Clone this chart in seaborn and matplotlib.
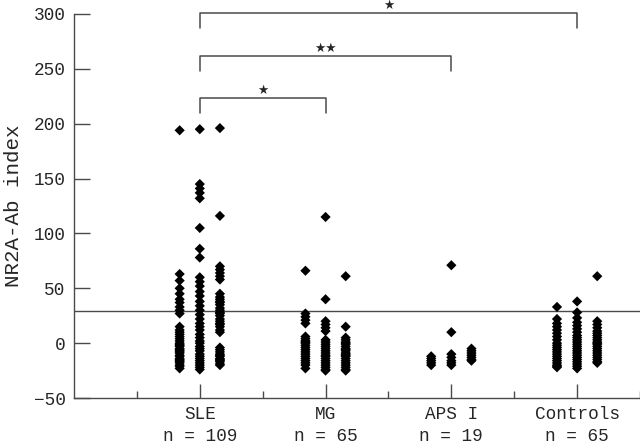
"""NR2A-Ab index by patient group, strip plot with significance brackets."""
import matplotlib
matplotlib.use("Agg")
import matplotlib.pyplot as plt
import numpy as np
import pandas as pd
import seaborn as sns

groups = ["SLE", "MG", "APS I", "Controls"]
cutoff = 29

# each group is drawn as three side-by-side columns of diamonds
sle_a = [194, 63, 57, 50, 45, 40, 37, 33, 30, 27, 15, 12, 10, 8, 6, 4, 2, 0, -1, -2,
         -3, -5, -6, -7, -8, -9, -11, -12, -14, -15, -16, -17, -18, -20, -21, -23]
sle_b = [195, 145, 141, 137, 132, 105, 86, 78, 60, 56, 52, 47, 43, 38, 34, 30, 26, 22,
         18, 15, 12, 8, 5, 2, 0, -3, -5, -7, -10, -12, -14, -16, -18, -20, -22, -24]
sle_c = [196, 116, 70, 67, 64, 61, 58, 45, 42, 40, 38, 37, 35, 32, 30, 28, 27, 25, 22,
         20, 18, 17, 15, 12, 10, -4, -6, -8, -10, -11, -12, -14, -15, -16, -17, -19, -20]
mg_a = [66, 27, 24, 21, 18, 6, 4, 2, 1, 0, -2, -4, -6, -8, -10, -12, -14, -16, -18, -20, -23]
mg_b = [115, 40, 20, 17, 14, 11, 3, 1, -1, -3, -5, -7, -9, -11, -12, -14, -16, -18, -20,
        -22, -24, -25]
mg_c = [61, 15, 5, 3, 1, 0, -1, -3, -5, -6, -7, -9, -10, -11, -12, -14, -16, -18, -20,
        -22, -24, -25]
aps_a = [-12, -14, -16, -18, -20]
aps_b = [71, 10, -10, -13, -16, -18, -20]
aps_c = [-5, -7, -9, -11, -13, -15, -16]
ctl_a = [33, 22, 18, 15, 12, 9, 6, 3, 0, -2, -4, -6, -8, -10, -12, -14, -16, -18, -20, -21, -22]
ctl_b = [38, 28, 23, 19, 16, 13, 10, 7, 5, 3, 1, -1, -3, -5, -7, -9, -11, -13, -15, -17,
         -19, -21, -23]
ctl_c = [61, 20, 17, 14, 11, 9, 7, 5, 3, 1, 0, -1, -3, -5, -7, -9, -11, -13, -15, -17, -18]

columns = {
    "SLE": [sle_a, sle_b, sle_c],
    "MG": [mg_a, mg_b, mg_c],
    "APS I": [aps_a, aps_b, aps_c],
    "Controls": [ctl_a, ctl_b, ctl_c],
}

# (from group, to group, stars)
comparisons = [("SLE", "MG", "★"), ("SLE", "APS I", "★★"), ("SLE", "Controls", "★")]

rows = []
for g in groups:
    for sub, vals in zip(["a", "b", "c"], columns[g]):
        rows += [{"group": g, "col": sub, "value": v} for v in vals]
df = pd.DataFrame(rows)
counts = df.groupby("group")["value"].size()

sns.set_style("ticks")
plt.rcParams["font.family"] = ["Liberation Mono", "DejaVu Sans"]

fig = plt.figure(figsize=(6.4, 4.44), dpi=100)
ax = fig.add_axes([74 / 640, 46 / 444, 566 / 640, 384 / 444])

# two empty outer hue levels make the dodge step narrower
hue_order = ["pad_l", "a", "b", "c", "pad_r"]
sns.stripplot(data=df, x="group", y="value", order=groups, hue="col",
              hue_order=hue_order, palette={h: "black" for h in hue_order},
              dodge=True, jitter=False, marker="D", size=5.2, linewidth=0,
              legend=False, ax=ax, zorder=3)

line_c = "#4a4a4a"
ax.axhline(cutoff, color=line_c, lw=1.0, zorder=2)

ax.set_xlim(-1, 3.5)
ax.set_ylim(-50, 300)
ax.set_yticks(np.arange(-50, 301, 50))
ax.set_xticks(range(len(groups)))
ax.set_xticklabels([f"{g}\nn = {counts[g]}" for g in groups], linespacing=1.35)
ax.set_xticks(np.arange(-0.5, 3.6, 1), minor=True)
ax.set_xlabel("")
ax.set_ylabel("NR2A-Ab index", fontsize=15, labelpad=8)

ax.tick_params(axis="y", direction="in", length=11.5, width=1, color=line_c,
               labelsize=12.8, pad=6)
ax.tick_params(axis="x", which="major", direction="in", length=10, width=1,
               color=line_c, labelsize=12.8, pad=6)
ax.tick_params(axis="x", which="minor", direction="in", length=5, width=1, color=line_c)
for side in ["top", "right"]:
    ax.spines[side].set_visible(False)
for side in ["left", "bottom"]:
    ax.spines[side].set_color(line_c)
    ax.spines[side].set_linewidth(1)

# significance brackets
bracket_tops = [223, 262, 300.5]
for (g1, g2, stars), top in zip(comparisons, bracket_tops):
    x1, x2 = groups.index(g1), groups.index(g2)
    ax.plot([x1, x1, x2, x2], [top - 13.5, top, top, top - 13.5], color=line_c,
            lw=1.1, clip_on=False, zorder=2)
    ax.text((x1 + x2) / 2, top + 7, stars, ha="center", va="center", fontsize=9,
            family="DejaVu Sans", clip_on=False)

fig.savefig("out.png", dpi=100)
